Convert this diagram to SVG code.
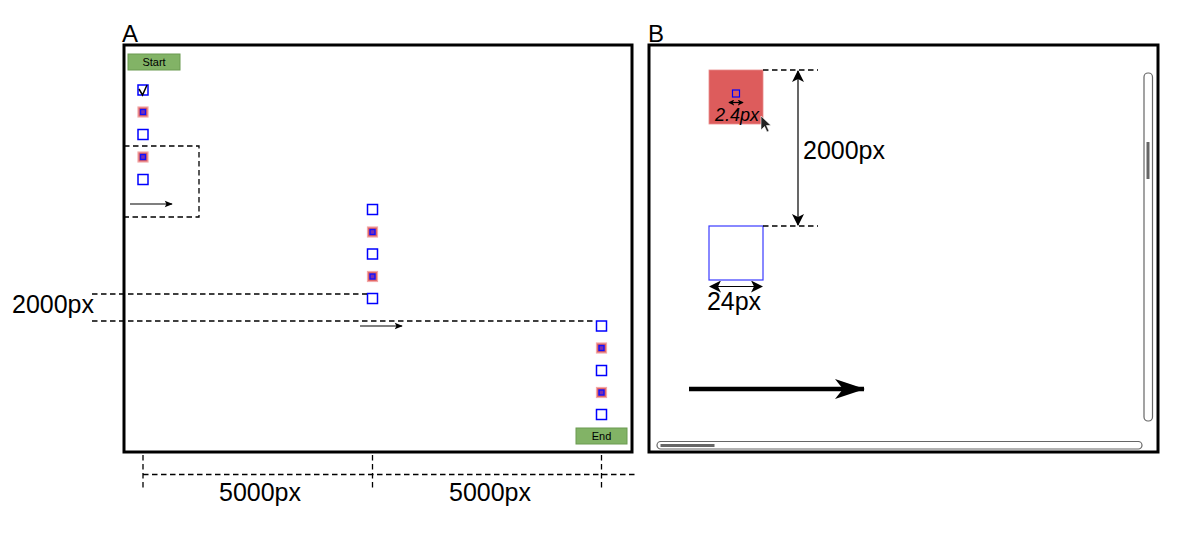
<svg xmlns="http://www.w3.org/2000/svg" width="1204" height="540" viewBox="0 0 1204 540">
<style>
.panel{fill:#ffffff;stroke:#000000;stroke-width:3}
.lbl{font-family:"Liberation Sans",Arial,sans-serif;fill:#000000}
.btn{fill:#82b366;stroke:#6a9a50;stroke-width:1}
.sq{fill:#ffffff;stroke:#0000ff;stroke-width:1.5}
.rsq{fill:#e06060;stroke:#f2a8a8;stroke-width:1.2}
.inner{fill:#7a2fb0;stroke:#1010ff;stroke-width:1.4}
.dash{fill:none;stroke:#000000;stroke-width:1.3;stroke-dasharray:5.5 3.5}
.thin{fill:none;stroke:#000000;stroke-width:1.2}
</style>
<defs>
<marker id="ah" viewBox="0 0 10 10" refX="9" refY="5" markerWidth="10" markerHeight="8" markerUnits="userSpaceOnUse" orient="auto">
<path d="M0,1 L10,5 L0,9 L2,5 Z" fill="#000"/>
</marker>
<marker id="ahm" viewBox="0 0 12 12" refX="11" refY="6" markerWidth="12" markerHeight="12" markerUnits="userSpaceOnUse" orient="auto-start-reverse">
<path d="M0,0 L12,6 L0,12 L3,6 Z" fill="#000"/>
</marker>
<marker id="ahs" viewBox="0 0 8 8" refX="7" refY="4" markerWidth="6" markerHeight="6" markerUnits="userSpaceOnUse" orient="auto-start-reverse">
<path d="M0,0 L8,4 L0,8 L2,4 Z" fill="#000"/>
</marker>
<marker id="ahb" viewBox="0 0 30 20" refX="29" refY="10" markerWidth="30" markerHeight="20" markerUnits="userSpaceOnUse" orient="auto">
<path d="M0,0 L30,10 L0,20 L8,10 Z" fill="#000"/>
</marker>
</defs>
<rect width="1204" height="540" fill="#ffffff"/>

<g id="panelA">
<rect class="panel" x="124" y="45" width="508" height="407"/>
<text class="lbl" x="122" y="42" font-size="24">A</text>
</g>
<g id="panelB">
<rect class="panel" x="649" y="45" width="509" height="407"/>
<text class="lbl" x="648" y="42" font-size="24">B</text>
</g>

<g id="startBtn">
<rect class="btn" x="128" y="54" width="52" height="16"/>
<text class="lbl" x="154" y="66" font-size="11" text-anchor="middle">Start</text>
</g>
<g id="endBtn">
<rect class="btn" x="576" y="428" width="51" height="16"/>
<text class="lbl" x="601.5" y="440" font-size="11" text-anchor="middle">End</text>
</g>

<g id="col1">
<rect class="sq" x="138" y="85" width="10" height="10"/>
<path d="M139,89 L142.5,95 L147,85" fill="none" stroke="#000" stroke-width="1.5"/>
<rect class="rsq" x="138" y="107" width="10" height="10"/>
<rect class="inner" x="140.5" y="109.5" width="5" height="5"/>
<rect class="sq" x="138" y="129.5" width="10" height="10"/>
<rect class="rsq" x="138" y="152" width="10" height="10"/>
<rect class="inner" x="140.5" y="154.5" width="5" height="5"/>
<rect class="sq" x="138" y="174.5" width="10" height="10"/>
</g>
<g id="col2">
<rect class="sq" x="367.5" y="204.5" width="10" height="10"/>
<rect class="rsq" x="367.5" y="227" width="10" height="10"/>
<rect class="inner" x="370" y="229.5" width="5" height="5"/>
<rect class="sq" x="367.5" y="249" width="10" height="10"/>
<rect class="rsq" x="367.5" y="271.5" width="10" height="10"/>
<rect class="inner" x="370" y="274" width="5" height="5"/>
<rect class="sq" x="367.5" y="293.5" width="10" height="10"/>
</g>
<g id="col3">
<rect class="sq" x="596.5" y="321" width="10" height="10"/>
<rect class="rsq" x="596.5" y="343" width="10" height="10"/>
<rect class="inner" x="599" y="345.5" width="5" height="5"/>
<rect class="sq" x="596.5" y="365.5" width="10" height="10"/>
<rect class="rsq" x="596.5" y="387.5" width="10" height="10"/>
<rect class="inner" x="599" y="390" width="5" height="5"/>
<rect class="sq" x="596.5" y="409.5" width="10" height="10"/>
</g>

<g id="viewportB">
<rect x="709" y="70" width="54" height="54" fill="#dd5c5c" stroke="#e88a8a" stroke-width="0.8"/>
<rect x="732.5" y="90" width="7" height="7" fill="none" stroke="#0000ff" stroke-width="1.2"/>
<text class="lbl" x="737" y="120.5" font-size="18" font-style="italic" text-anchor="middle">2.4px</text>
<path d="M761,116 L761,130 L764.5,126.5 L767,132 L769,131 L766.5,125.5 L771,125.5 Z" fill="#222" stroke="#ffffff" stroke-width="0.6"/>
<rect x="709" y="226" width="54" height="54" fill="#ffffff" stroke="#3a3aff" stroke-width="1.2"/>
</g>

<g id="scrollbars">
<rect x="1144" y="73" width="8.5" height="348" rx="4" fill="#ffffff" stroke="#666" stroke-width="1.2"/>
<rect x="1146.5" y="142" width="3" height="37" fill="#666"/>
<rect x="657" y="441.5" width="485" height="7.5" rx="3.7" fill="#ffffff" stroke="#666" stroke-width="1.2"/>
<rect x="660.5" y="444" width="54" height="3" fill="#666"/>
</g>

<g id="labels">
<text class="lbl" x="12" y="313" font-size="25">2000px</text>
<text class="lbl" x="260" y="501" font-size="25" text-anchor="middle">5000px</text>
<text class="lbl" x="490" y="501" font-size="25" text-anchor="middle">5000px</text>
<text class="lbl" x="803" y="159" font-size="25">2000px</text>
<text class="lbl" x="734" y="310" font-size="25" text-anchor="middle">24px</text>
</g>

<g id="connectors">
<path class="dash" d="M124,146 L199,146 L199,217 L124,217"/>
<line class="thin" x1="130" y1="204" x2="172" y2="204" marker-end="url(#ah)"/>
<line class="dash" x1="92" y1="294" x2="367" y2="294"/>
<line class="dash" x1="92" y1="321" x2="596" y2="321"/>
<line class="thin" x1="360" y1="326" x2="402" y2="326" marker-end="url(#ah)"/>
<line class="dash" x1="143" y1="455" x2="143" y2="488"/>
<line class="dash" x1="372.5" y1="455" x2="372.5" y2="488"/>
<line class="dash" x1="601.5" y1="455" x2="601.5" y2="488"/>
<line class="dash" x1="143" y1="474.5" x2="637" y2="474.5"/>
<line class="dash" x1="763" y1="70" x2="818" y2="70"/>
<line class="dash" x1="763" y1="226" x2="818" y2="226"/>
<line class="thin" x1="798" y1="71" x2="798" y2="225" marker-start="url(#ahm)" marker-end="url(#ahm)"/>
<line class="thin" x1="710" y1="286.5" x2="762" y2="286.5" stroke-width="1.5" marker-start="url(#ahm)" marker-end="url(#ahm)"/>
<line class="thin" x1="729" y1="102.5" x2="743" y2="102.5" stroke-width="1" marker-start="url(#ahs)" marker-end="url(#ahs)"/>
<line x1="689" y1="389" x2="864" y2="389" stroke="#000" stroke-width="4.5" marker-end="url(#ahb)"/>
</g>
</svg>
